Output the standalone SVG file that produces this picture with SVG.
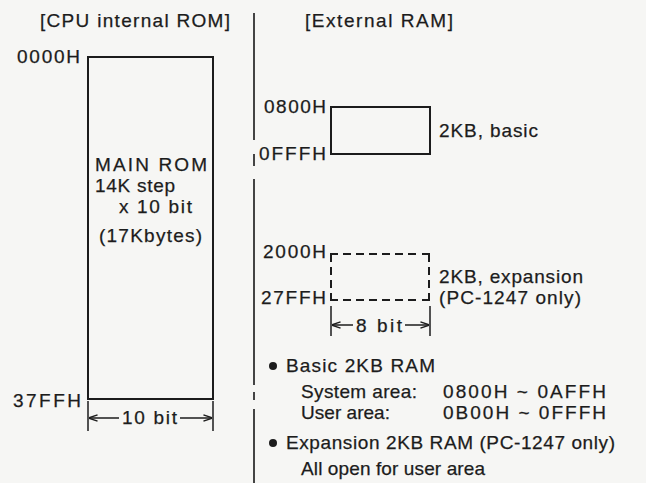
<svg xmlns="http://www.w3.org/2000/svg" width="646" height="483" viewBox="0 0 646 483">
<style>
text{font-family:"Liberation Sans",Arial,Helvetica,sans-serif;font-size:19px;fill:#1c1c1c;stroke:#1c1c1c;stroke-width:0.25}
.box{fill:none;stroke:#1c1c1c;stroke-width:2}
.corner{fill:none;stroke:#1c1c1c;stroke-width:2}
.dash{fill:none;stroke:#1c1c1c;stroke-width:2;stroke-dasharray:8,5}
.ln{fill:none;stroke:#1c1c1c;stroke-width:1.5}
.div{fill:none;stroke:#444;stroke-width:2}
</style>
<defs>
<marker id="ah" viewBox="0 0 10 10" refX="9.5" refY="5" markerWidth="9" markerHeight="9" markerUnits="userSpaceOnUse" orient="auto">
<path d="M0,1.5 L10,5 L0,8.5" fill="none" stroke="#1c1c1c" stroke-width="1.6"/>
</marker>
</defs>
<rect width="646" height="483" fill="#f6f6f4"/>

<g id="divider">
<path class="div" d="M254,13V140 M254,154V166 M254,179V385 M254,392V400 M254,409V483"/>
</g>

<g id="rom">
<text x="40" y="27" textLength="190" lengthAdjust="spacing">[CPU internal ROM]</text>
<text x="17" y="63" textLength="63" lengthAdjust="spacing">0000H</text>
<rect class="box" x="88" y="57" width="125" height="342"/>
<text x="95" y="171" textLength="112" lengthAdjust="spacing">MAIN ROM</text>
<text x="95" y="192" textLength="80" lengthAdjust="spacing">14K step</text>
<text x="119" y="213" textLength="73" lengthAdjust="spacing">x 10 bit</text>
<text x="99" y="242" textLength="103" lengthAdjust="spacing">(17Kbytes)</text>
<text x="13" y="407" textLength="68" lengthAdjust="spacing">37FFH</text>
<text x="122" y="424" textLength="55" lengthAdjust="spacing">10 bit</text>
</g>

<g id="ram-title">
<text x="305" y="27" textLength="148" lengthAdjust="spacing">[External RAM]</text>
</g>

<g id="ram-basic">
<text x="264" y="113" textLength="62" lengthAdjust="spacing">0800H</text>
<text x="259" y="160" textLength="67" lengthAdjust="spacing">0FFFH</text>
<rect class="box" x="331" y="107" width="99" height="47"/>
<text x="439" y="137" textLength="99" lengthAdjust="spacing">2KB, basic</text>
</g>

<g id="ram-expansion">
<text x="263" y="258" textLength="63" lengthAdjust="spacing">2000H</text>
<text x="261" y="304" textLength="65" lengthAdjust="spacing">27FFH</text>
<path class="corner" d="M331,262V254H338 M422,254H429V262 M331,293V300H338 M422,300H429V293"/>
<path class="dash" d="M343,254H418 M343,300H418 M331,267V289 M429,267V289"/>
<text x="439" y="283" textLength="144" lengthAdjust="spacing">2KB, expansion</text>
<text x="439" y="304" textLength="142" lengthAdjust="spacing">(PC-1247 only)</text>
<text x="356" y="332" textLength="46" lengthAdjust="spacing">8 bit</text>
</g>

<g id="connectors">
<path class="ln" d="M88,401V431 M213,401V431"/>
<path class="ln" d="M119,418H89" marker-end="url(#ah)"/>
<path class="ln" d="M180,418H212" marker-end="url(#ah)"/>
<path class="ln" d="M331,306V336 M430,306V336"/>
<path class="ln" d="M353,325H332" marker-end="url(#ah)"/>
<path class="ln" d="M405,325H429" marker-end="url(#ah)"/>
</g>

<g id="notes">
<circle cx="273" cy="366" r="4" fill="#1c1c1c"/>
<text x="286" y="372" textLength="149" lengthAdjust="spacing">Basic 2KB RAM</text>
<text x="301" y="398" textLength="116" lengthAdjust="spacing">System area:</text>
<text x="443" y="398" textLength="163" lengthAdjust="spacing">0800H ~ 0AFFH</text>
<text x="301" y="419" textLength="89" lengthAdjust="spacing">User area:</text>
<text x="443" y="419" textLength="163" lengthAdjust="spacing">0B00H ~ 0FFFH</text>
<circle cx="273" cy="443" r="4" fill="#1c1c1c"/>
<text x="286" y="449" textLength="329" lengthAdjust="spacing">Expansion 2KB RAM (PC-1247 only)</text>
<text x="301" y="475" textLength="184" lengthAdjust="spacing">All open for user area</text>
</g>
</svg>
